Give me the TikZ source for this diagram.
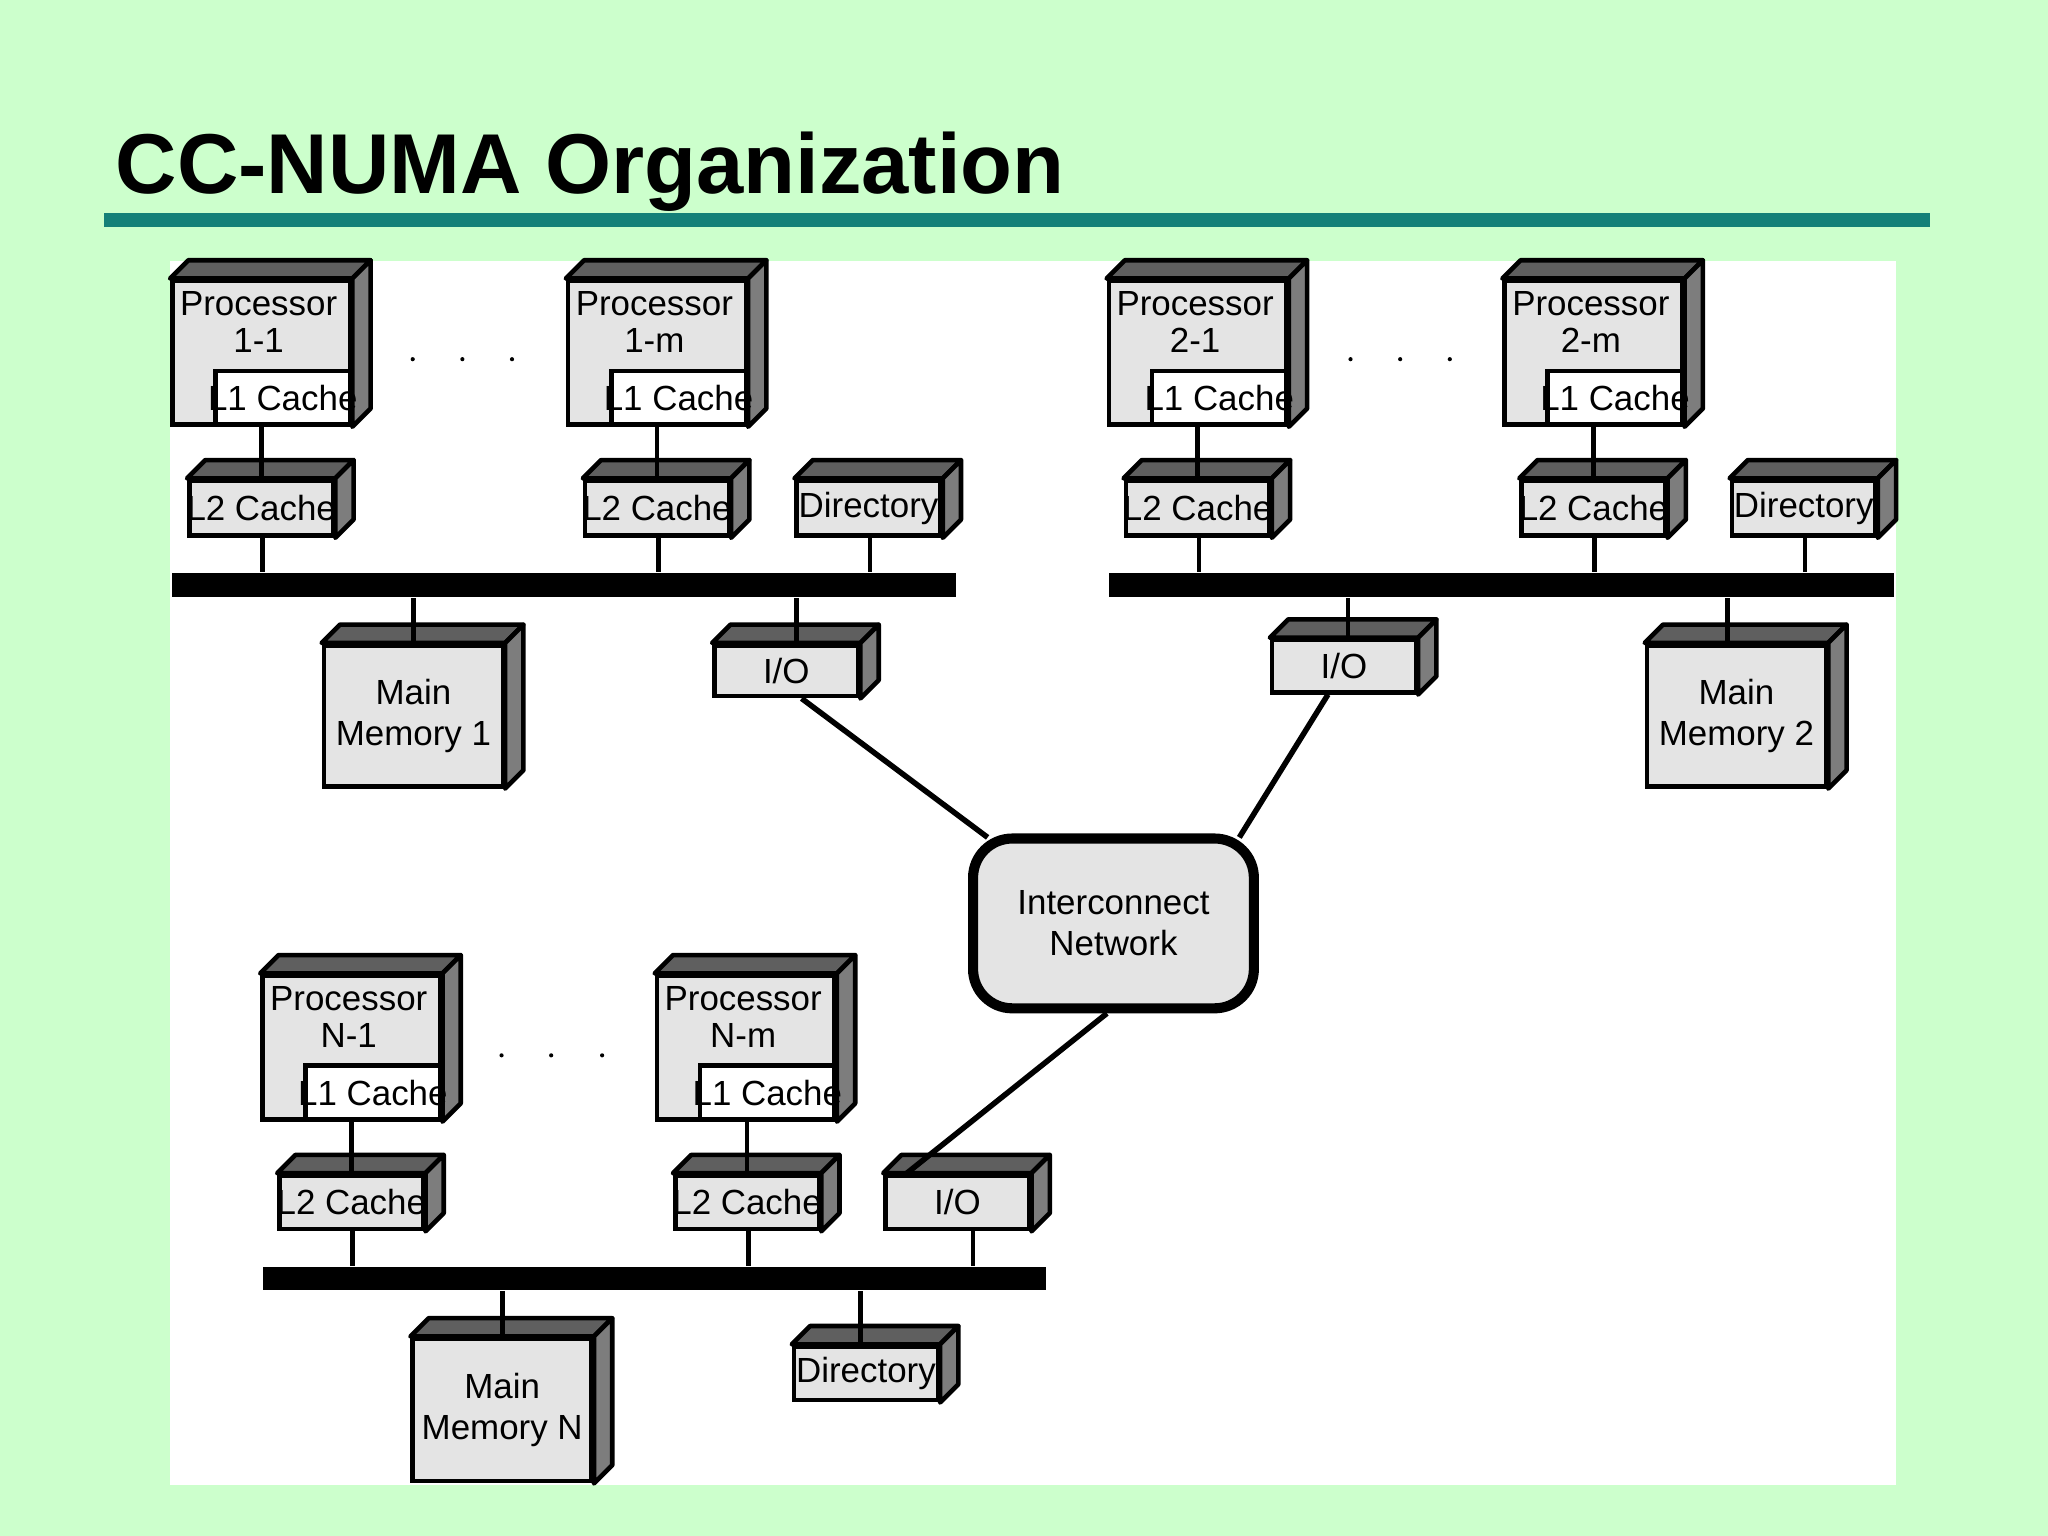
\documentclass[tikz,border=0pt]{standalone}
\usepackage{fontspec}
\setmainfont{Liberation Sans}
\usetikzlibrary{fit}
\definecolor{bggreen}{RGB}{204,255,204}
\definecolor{rulecol}{RGB}{20,128,120}
\definecolor{facecol}{RGB}{228,228,228}
\definecolor{topcol}{RGB}{95,95,95}
\definecolor{sidecol}{RGB}{125,125,125}
\tikzset{
  face/.style={draw, line width=1pt, fill=facecol, inner sep=0pt},
  l1/.style={draw, line width=1pt, fill=white, inner sep=0pt},
  bus/.style={fill=black, inner sep=0pt},
  wire/.style={line width=1pt},
  net/.style={line width=1.2pt},
  txt/.style={font=\fontsize{7.6}{9}\selectfont, align=center},
}
% #1 name, #2 x1, #3 y1, #4 x2, #5 y2, #6 text
\newcommand\cubebox[6]{%
  \node[face, fit={(#2,#3)(#4,#5)}, label={[txt]center:{#6}}] (#1) {};
  \filldraw[line width=1pt, fill=topcol, line join=round] (#1.north west) -- ([shift={(0.14cm,0.14cm)}]#1.north west)
    -- ([shift={(0.14cm,0.14cm)}]#1.north east) -- (#1.north east) -- cycle;
  \filldraw[line width=1pt, fill=sidecol, line join=round] (#1.north east) -- ([shift={(0.14cm,0.14cm)}]#1.north east)
    -- ([shift={(0.14cm,0.14cm)}]#1.south east) -- (#1.south east) -- cycle;
}
% processor: #1 name, #2 x1, #3 y1, #4 label
\newcommand\procbox[4]{%
  \cubebox{#1}{#2}{#3}{#2+136}{#3+110}{}
  \node[txt, anchor=north, inner sep=1pt] (#1t) at ([xshift=-0.02cm,yshift=-0.06cm]#1.north) {Processor\\[-1pt]#4};
  \node[l1, fit={(#2+33,#3+69)(#2+136,#3+110)}, label={[txt]center:{L1 Cache}}] (#1c) {};
}
\begin{document}
\begin{tikzpicture}[x=0.01cm, y=-0.01cm]
\fill[bggreen] (0,0) rectangle (1568,1176);
\useasboundingbox (0,0) rectangle (1568,1176);
\node[anchor=base west, inner sep=0pt, font=\fontsize{18.5}{20}\selectfont\bfseries] (title) at (88,148) {CC-NUMA Organization};
\fill[rulecol] (80,163) rectangle (1478,174);
\fill[white] (130,200) rectangle (1452,1137);

% node 1
\procbox{p11}{132}{215}{1-1}
\procbox{p1m}{435}{215}{1-m}
\cubebox{l211}{145}{368}{255}{410}{L2 Cache}
\cubebox{l21m}{448}{368}{558}{410}{L2 Cache}
\cubebox{dir1}{610}{368}{720}{410}{Directory}
\node[bus, fit={(132,439)(732,457)}] (bus1) {};
\cubebox{mem1}{248}{494}{385}{602}{Main\\Memory 1}
\cubebox{io1}{547}{494}{657}{533}{I/O}
\foreach \x in {316,354,392} \fill (\x,275) circle (1.6);

% node 2
\procbox{p21}{849}{215}{2-1}
\procbox{p2m}{1152}{215}{2-m}
\cubebox{l221}{862}{368}{972}{410}{L2 Cache}
\cubebox{l22m}{1165}{368}{1275}{410}{L2 Cache}
\cubebox{dir2}{1326}{368}{1436}{410}{Directory}
\node[bus, fit={(849,439)(1450,457)}] (bus2) {};
\cubebox{io2}{974}{490}{1084}{530}{I/O}
\cubebox{mem2}{1261}{494}{1398}{602}{Main\\Memory 2}
\foreach \x in {1034,1072,1110} \fill (\x,275) circle (1.6);

% node N
\procbox{pn1}{201}{747}{N-1}
\procbox{pnm}{503}{747}{N-m}
\cubebox{l2n1}{214}{900}{324}{941}{L2 Cache}
\cubebox{l2nm}{517}{900}{627}{941}{L2 Cache}
\cubebox{ion}{678}{900}{788}{941}{I/O}
\node[bus, fit={(201,970)(801,988)}] (busn) {};
\cubebox{memn}{316}{1025}{453}{1134}{Main\\Memory N}
\cubebox{dirn}{608}{1031}{718}{1072}{Directory}
\foreach \x in {384,422,461} \fill (\x,808) circle (1.6);

% interconnect
\node[draw, line width=2.2pt, fill=facecol, rounded corners=0.3cm, fit={(745,642)(960,772)}, inner sep=0pt,
  label={[txt]center:{Interconnect\\Network}}] (icn) {};

% wires node 1
\foreach \l/\p in {l211/p11, l21m/p1m, l221/p21, l22m/p2m, l2n1/pn1, l2nm/pnm}
  \draw[wire] (\l.north) -- (\l.north |- \p.south);
\foreach \l in {l211, l21m, dir1} \draw[wire] ([xshift=0.01cm]\l.south) -- ([xshift=0.01cm]\l.south |- bus1.north);
\draw[wire] (mem1.north) -- (mem1.north |- bus1.south);
\draw[wire] ([xshift=0.08cm]io1.north) -- ([xshift=0.08cm]io1.north |- bus1.south);
\foreach \l in {l221, l22m, dir2} \draw[wire] ([xshift=0.01cm]\l.south) -- ([xshift=0.01cm]\l.south |- bus2.north);
\draw[wire] ([xshift=0.03cm]io2.north) -- ([xshift=0.03cm]io2.north |- bus2.south);
\draw[wire] ([xshift=-0.07cm]mem2.north) -- ([xshift=-0.07cm]mem2.north |- bus2.south);
\foreach \l in {l2n1, l2nm} \draw[wire] ([xshift=0.01cm]\l.south) -- ([xshift=0.01cm]\l.south |- busn.north);
\draw[wire] ([xshift=0.12cm]ion.south) -- ([xshift=0.12cm]ion.south |- busn.north);
\draw[wire] (memn.north) -- (memn.north |- busn.south);
\draw[wire] ([xshift=-0.04cm]dirn.north) -- ([xshift=-0.04cm]dirn.north |- busn.south);

% network links
\draw[net] ([xshift=-0.45cm]io1.south east) -- ([shift={(0.15cm,-0.03cm)}]icn.north west);
\draw[net] ([xshift=-0.69cm]io2.south east) -- ([shift={(-0.15cm,-0.03cm)}]icn.north east);
\draw[net] ([xshift=-0.05cm]icn.south) -- ([xshift=0.18cm]ion.north west);
\end{tikzpicture}
\end{document}
